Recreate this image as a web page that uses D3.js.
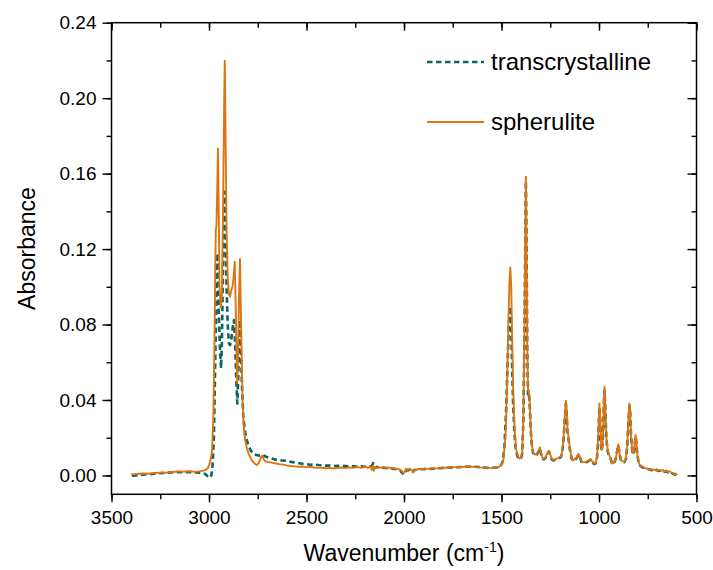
<!DOCTYPE html>
<html>
<head>
<meta charset="utf-8">
<script src="https://cdn.jsdelivr.net/npm/d3@7/dist/d3.min.js"></script>
<style>
  html, body { margin: 0; padding: 0; background: #fff; }
  svg { display: block; }
  text { font-family: "Liberation Sans", Arial, sans-serif; fill: #000; }
</style>
</head>
<body>
<svg id="chart" width="713" height="570"></svg>
<script>
// ---------------- data ----------------
const seriesNames = ["transcrystalline", "spherulite"];
const xTicks = [3500, 3000, 2500, 2000, 1500, 1000, 500];
const yTicks = [0.00, 0.04, 0.08, 0.12, 0.16, 0.20, 0.24];

const spherWn = [3400,3370,3340,3310,3280,3250,3220,3190,3160,3130,3100,3070,3040,3020,3005,2995,2985,2978,2972,2968,2965,2962,2958,2954,2950,2946,2940,2934,2928,2922,2919,2915,2910,2904,2898,2892,2886,2880,2874,2868,2863,2858,2855,2850,2845,2841,2837,2832,2827,2822,2815,2805,2795,2780,2765,2755,2745,2735,2728,2722,2712,2700,2680,2660,2640,2620,2600,2580,2560,2540,2520,2500,2480,2460,2440,2420,2400,2380,2360,2340,2320,2300,2280,2260,2240,2220,2200,2185,2172,2165,2160,2155,2148,2140,2120,2100,2080,2060,2040,2020,2010,2003,1996,1990,1980,1970,1960,1952,1945,1935,1925,1910,1890,1870,1850,1830,1810,1790,1770,1750,1730,1710,1690,1670,1650,1630,1610,1590,1570,1550,1530,1515,1500,1490,1480,1472,1465,1460,1455,1450,1445,1440,1433,1425,1415,1408,1400,1394,1388,1382,1378,1375,1372,1368,1364,1360,1356,1350,1344,1338,1330,1320,1310,1303,1297,1290,1282,1275,1268,1262,1256,1250,1243,1235,1225,1215,1205,1195,1188,1182,1176,1170,1166,1162,1156,1150,1142,1135,1125,1115,1105,1098,1090,1080,1070,1060,1050,1043,1035,1025,1018,1010,1004,998,994,989,985,980,975,972,968,962,955,948,940,932,925,917,910,905,900,895,888,880,870,862,855,849,844,840,835,828,823,818,813,809,804,797,790,781,770,760,750,740,730,720,712,705,698,690,680,672,665,655,645,638,630,620,612,605,600];
const spherAbs = [0.0005,0.0008,0.0010,0.0009,0.0013,0.0015,0.0014,0.0018,0.0021,0.0020,0.0022,0.0019,0.0023,0.0028,0.0040,0.0070,0.0120,0.0300,0.0700,0.1100,0.1300,0.1320,0.1500,0.1734,0.1400,0.1000,0.0890,0.0950,0.1400,0.2000,0.2199,0.1800,0.1300,0.1050,0.0960,0.0948,0.0980,0.1000,0.1050,0.1133,0.0900,0.0600,0.0488,0.0700,0.1000,0.1147,0.0900,0.0600,0.0380,0.0260,0.0190,0.0140,0.0110,0.0080,0.0062,0.0055,0.0065,0.0090,0.0105,0.0090,0.0075,0.0072,0.0068,0.0064,0.0060,0.0057,0.0053,0.0050,0.0048,0.0046,0.0047,0.0044,0.0045,0.0042,0.0040,0.0041,0.0038,0.0040,0.0037,0.0040,0.0042,0.0039,0.0043,0.0041,0.0045,0.0040,0.0046,0.0040,0.0048,0.0030,0.0050,0.0025,0.0045,0.0040,0.0043,0.0040,0.0042,0.0038,0.0036,0.0030,0.0022,0.0010,0.0020,0.0035,0.0030,0.0036,0.0028,0.0015,0.0032,0.0028,0.0035,0.0033,0.0036,0.0035,0.0037,0.0038,0.0040,0.0041,0.0042,0.0043,0.0044,0.0045,0.0046,0.0047,0.0046,0.0044,0.0043,0.0040,0.0039,0.0040,0.0041,0.0044,0.0055,0.0085,0.0200,0.0450,0.0800,0.1000,0.1103,0.1000,0.0700,0.0450,0.0250,0.0140,0.0100,0.0090,0.0095,0.0120,0.0300,0.0800,0.1300,0.1584,0.1300,0.0700,0.0450,0.0453,0.0400,0.0250,0.0160,0.0125,0.0110,0.0115,0.0130,0.0149,0.0120,0.0095,0.0089,0.0095,0.0110,0.0125,0.0131,0.0110,0.0090,0.0083,0.0085,0.0090,0.0095,0.0100,0.0130,0.0200,0.0300,0.0396,0.0350,0.0250,0.0200,0.0150,0.0100,0.0080,0.0085,0.0095,0.0114,0.0100,0.0075,0.0070,0.0072,0.0075,0.0082,0.0087,0.0075,0.0062,0.0065,0.0100,0.0200,0.0382,0.0300,0.0160,0.0135,0.0200,0.0400,0.0470,0.0380,0.0200,0.0130,0.0110,0.0090,0.0063,0.0065,0.0080,0.0110,0.0150,0.0165,0.0120,0.0085,0.0075,0.0073,0.0090,0.0160,0.0300,0.0382,0.0340,0.0200,0.0120,0.0117,0.0150,0.0214,0.0190,0.0120,0.0070,0.0055,0.0048,0.0042,0.0038,0.0035,0.0033,0.0030,0.0032,0.0027,0.0032,0.0026,0.0028,0.0024,0.0029,0.0022,0.0025,0.0018,0.0022,0.0015,0.0012,0.0005,0.0010,0.0002];

const transWn = [3395,3370,3340,3310,3280,3250,3220,3190,3160,3130,3100,3070,3040,3020,3005,2995,2988,2982,2975,2968,2962,2957,2953,2948,2943,2938,2934,2928,2922,2919,2915,2910,2904,2898,2892,2886,2879,2872,2866,2860,2855,2850,2845,2841,2836,2830,2824,2815,2805,2798,2785,2770,2755,2740,2725,2710,2690,2670,2650,2630,2602,2580,2560,2540,2520,2500,2480,2460,2440,2420,2400,2380,2360,2340,2320,2300,2280,2260,2240,2220,2200,2180,2165,2158,2152,2140,2120,2100,2080,2060,2040,2020,2008,2000,1994,1985,1975,1965,1955,1948,1935,1920,1900,1880,1860,1840,1820,1800,1780,1760,1740,1720,1700,1680,1660,1640,1620,1600,1580,1560,1540,1520,1505,1495,1485,1476,1468,1462,1457,1455,1451,1446,1441,1434,1426,1416,1408,1400,1394,1388,1382,1378,1375,1372,1368,1364,1360,1356,1350,1344,1338,1330,1320,1310,1303,1297,1290,1282,1275,1268,1262,1256,1250,1243,1235,1225,1215,1205,1195,1188,1182,1176,1170,1166,1162,1156,1150,1142,1135,1125,1115,1105,1098,1090,1080,1070,1060,1050,1043,1035,1025,1018,1010,1004,998,994,989,985,980,975,972,968,962,955,948,940,932,925,917,910,905,900,895,888,880,870,862,855,849,844,840,835,828,823,818,813,809,804,797,790,781,770,760,750,740,730,720,712,705,698,690,680,672,665,655,645,638,630,620,612,605,600];
const transAbs = [-0.0002,0.0000,0.0004,0.0006,0.0009,0.0012,0.0013,0.0016,0.0018,0.0017,0.0018,0.0016,0.0015,0.0008,-0.0005,-0.0012,0.0000,0.0050,0.0200,0.0600,0.0950,0.1178,0.1000,0.0800,0.0650,0.0568,0.0700,0.1100,0.1450,0.1504,0.1300,0.1000,0.0800,0.0700,0.0691,0.0720,0.0780,0.0824,0.0700,0.0500,0.0382,0.0520,0.0720,0.0824,0.0650,0.0450,0.0310,0.0230,0.0185,0.0160,0.0130,0.0112,0.0108,0.0105,0.0110,0.0100,0.0092,0.0087,0.0082,0.0080,0.0078,0.0072,0.0068,0.0065,0.0062,0.0060,0.0057,0.0058,0.0055,0.0054,0.0052,0.0053,0.0050,0.0051,0.0049,0.0050,0.0048,0.0049,0.0047,0.0048,0.0046,0.0047,0.0050,0.0065,0.0040,0.0045,0.0042,0.0040,0.0038,0.0036,0.0033,0.0025,0.0012,0.0005,0.0012,0.0030,0.0028,0.0033,0.0020,0.0028,0.0030,0.0034,0.0033,0.0036,0.0035,0.0037,0.0038,0.0040,0.0041,0.0042,0.0043,0.0044,0.0045,0.0046,0.0047,0.0046,0.0045,0.0043,0.0041,0.0040,0.0041,0.0042,0.0050,0.0070,0.0150,0.0350,0.0620,0.0800,0.0880,0.0895,0.0820,0.0600,0.0400,0.0230,0.0130,0.0095,0.0088,0.0092,0.0115,0.0280,0.0750,0.1250,0.1560,0.1280,0.0680,0.0430,0.0440,0.0390,0.0240,0.0155,0.0120,0.0105,0.0110,0.0125,0.0143,0.0115,0.0090,0.0085,0.0092,0.0105,0.0120,0.0127,0.0105,0.0086,0.0080,0.0082,0.0087,0.0092,0.0097,0.0125,0.0190,0.0285,0.0380,0.0335,0.0240,0.0190,0.0143,0.0095,0.0077,0.0082,0.0092,0.0110,0.0097,0.0072,0.0068,0.0070,0.0072,0.0079,0.0084,0.0072,0.0060,0.0063,0.0095,0.0190,0.0365,0.0290,0.0155,0.0130,0.0190,0.0380,0.0450,0.0365,0.0190,0.0125,0.0106,0.0087,0.0061,0.0063,0.0078,0.0106,0.0145,0.0158,0.0116,0.0082,0.0072,0.0070,0.0087,0.0155,0.0290,0.0370,0.0330,0.0195,0.0116,0.0113,0.0145,0.0205,0.0182,0.0115,0.0068,0.0053,0.0046,0.0040,0.0036,0.0034,0.0031,0.0028,0.0030,0.0025,0.0030,0.0024,0.0026,0.0022,0.0027,0.0020,0.0023,0.0016,0.0020,0.0013,0.0010,0.0003,0.0008,0.0000];

// ---------------- layout ----------------
const svg = d3.select("#chart");
const L = 111.5, R = 696.5, T = 22.7, B = 494.3;
const x = d3.scaleLinear().domain([3500, 500]).range([L, R]);
const y = d3.scaleLinear().domain([-0.01, 0.24]).range([B, T]);

const colTrans = "#0b6565";
const colSpher = "#dd7510";
const dashTrans = "5.5,3.5";

const toPts = (wn, ab) => wn.map((w, i) => [w, ab[i]]);
const line = d3.line().x(d => x(d[0])).y(d => y(d[1]));

const plot = svg.append("g");
plot.append("path")
  .datum(toPts(transWn, transAbs))
  .attr("d", line).attr("fill", "none")
  .attr("stroke", colTrans).attr("stroke-width", 2.6)
  .attr("stroke-dasharray", dashTrans).attr("stroke-linejoin", "round");
plot.append("path")
  .datum(toPts(spherWn, spherAbs))
  .attr("d", line).attr("fill", "none")
  .attr("stroke", colSpher).attr("stroke-width", 1.9)
  .attr("stroke-linejoin", "round");

// ---------------- axes ----------------
const xMinor = d3.range(3500, 499, -250);
const yMinor = d3.range(-0.00, 0.2401, 0.02);

const fmtY = d3.format(".2f");
const axStyle = g => {
  g.select(".domain").remove();
  g.selectAll(".tick line").attr("stroke", "#000").attr("stroke-width", 1.4);
  g.selectAll(".tick text").style("font-size", "19px").style("font-family", "Liberation Sans, Arial, sans-serif");
};

// bottom
svg.append("g").attr("transform", `translate(0,${B})`)
  .call(d3.axisBottom(x).tickValues(xMinor).tickSize(5).tickFormat(""))
  .call(axStyle);
svg.append("g").attr("transform", `translate(0,${B})`)
  .call(d3.axisBottom(x).tickValues(xTicks).tickSize(8).tickPadding(8).tickFormat(d3.format("d")))
  .call(axStyle);
// top (inward)
svg.append("g").attr("transform", `translate(0,${T})`)
  .call(d3.axisBottom(x).tickValues(xMinor).tickSize(5).tickFormat(""))
  .call(axStyle);
svg.append("g").attr("transform", `translate(0,${T})`)
  .call(d3.axisBottom(x).tickValues(xTicks).tickSize(8).tickFormat(""))
  .call(axStyle);
// left
svg.append("g").attr("transform", `translate(${L},0)`)
  .call(d3.axisLeft(y).tickValues(yMinor).tickSize(5).tickFormat(""))
  .call(axStyle);
svg.append("g").attr("transform", `translate(${L},0)`)
  .call(d3.axisLeft(y).tickValues(yTicks).tickSize(9).tickPadding(6).tickFormat(fmtY))
  .call(axStyle);
// right (inward)
svg.append("g").attr("transform", `translate(${R},0)`)
  .call(d3.axisLeft(y).tickValues(yMinor).tickSize(5).tickFormat(""))
  .call(axStyle);
svg.append("g").attr("transform", `translate(${R},0)`)
  .call(d3.axisLeft(y).tickValues(yTicks).tickSize(9).tickFormat(""))
  .call(axStyle);

// frame
svg.append("rect").attr("x", L).attr("y", T).attr("width", R - L).attr("height", B - T)
  .attr("fill", "none").attr("stroke", "#000").attr("stroke-width", 1.5);

// titles
const xt = svg.append("text").attr("x", (L + R) / 2).attr("y", 561)
  .attr("text-anchor", "middle").style("font-size", "23px");
xt.append("tspan").text("Wavenumber (cm");
xt.append("tspan").attr("dy", -9).style("font-size", "14px").text("-1");
xt.append("tspan").attr("dy", 9).text(")");

svg.append("text").attr("transform", `translate(35,${(T + B) / 2 - 10}) rotate(-90)`)
  .attr("text-anchor", "middle").style("font-size", "23px").text("Absorbance");

// legend
const leg = svg.append("g");
const legY = [62, 122];
const legCols = [colTrans, colSpher];
leg.selectAll("line").data(seriesNames).join("line")
  .attr("x1", 427).attr("x2", 484)
  .attr("y1", (d, i) => legY[i]).attr("y2", (d, i) => legY[i])
  .attr("stroke", (d, i) => legCols[i])
  .attr("stroke-width", (d, i) => i === 0 ? 2.6 : 1.9)
  .attr("stroke-dasharray", (d, i) => i === 0 ? dashTrans : null);
leg.selectAll("text").data(seriesNames).join("text")
  .attr("x", 491).attr("y", (d, i) => legY[i] + 8)
  .style("font-size", "24px").text(d => d);
</script>
</body>
</html>
